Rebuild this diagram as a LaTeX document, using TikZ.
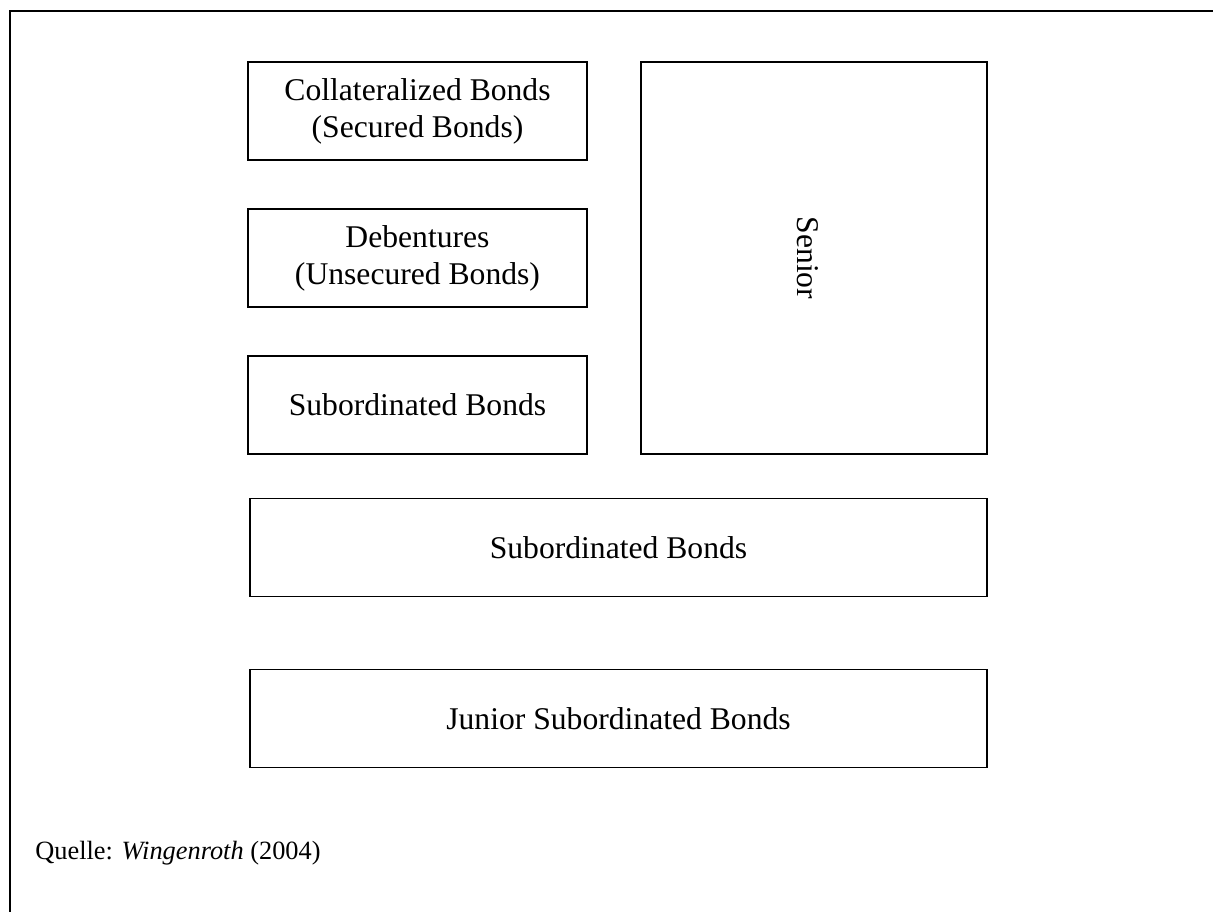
\documentclass[tikz,border=0pt]{standalone}
\usepackage{fontspec}
\setmainfont{Liberation Serif}
\usepackage{tikz}

\begin{document}
\begin{tikzpicture}[x = 0.02cm, y = -0.02cm]
\tikzstyle{frameStyle} = [line width = 1.5pt]
\tikzstyle{boxStyle} = [shape = rectangle, draw, line width = 1.1pt, inner sep = 0pt, align = center, font = \fontsize{18}{21}\selectfont]
\tikzstyle{smallStyle} = [boxStyle, minimum width = 6.78cm, minimum height = 1.96cm]
\tikzstyle{wideStyle} = [boxStyle, minimum width = 14.74cm, minimum height = 1.96cm]
\useasboundingbox (0,0) rectangle (1213,912);
\draw[frameStyle] (10,912) -- (10,11) -- (1213,11);
\node[smallStyle] (collateralized) at (417.5,111) {Collateralized Bonds\\(Secured Bonds)};
\node[smallStyle] (debentures) at (417.5,258) {Debentures\\(Unsecured Bonds)};
\node[smallStyle] (subordinatedA) at (417.5,405) {Subordinated Bonds};
\node[boxStyle, minimum width = 6.92cm, minimum height = 7.84cm] (senior) at (814,258) {};
\node[font = \fontsize{18}{21}\selectfont, rotate = -90] (seniorText) at (808,258) {Senior};
\node[wideStyle] (subordinatedB) at (618.5,547.5) {Subordinated Bonds};
\node[wideStyle] (junior) at (618.5,718.5) {Junior Subordinated Bonds};
\node[anchor = west, inner sep = 0pt, font = \fontsize{15}{18}\selectfont] (source) at (35,853) {Quelle: \textit{Wingenroth} (2004)};
\end{tikzpicture}
\end{document}
